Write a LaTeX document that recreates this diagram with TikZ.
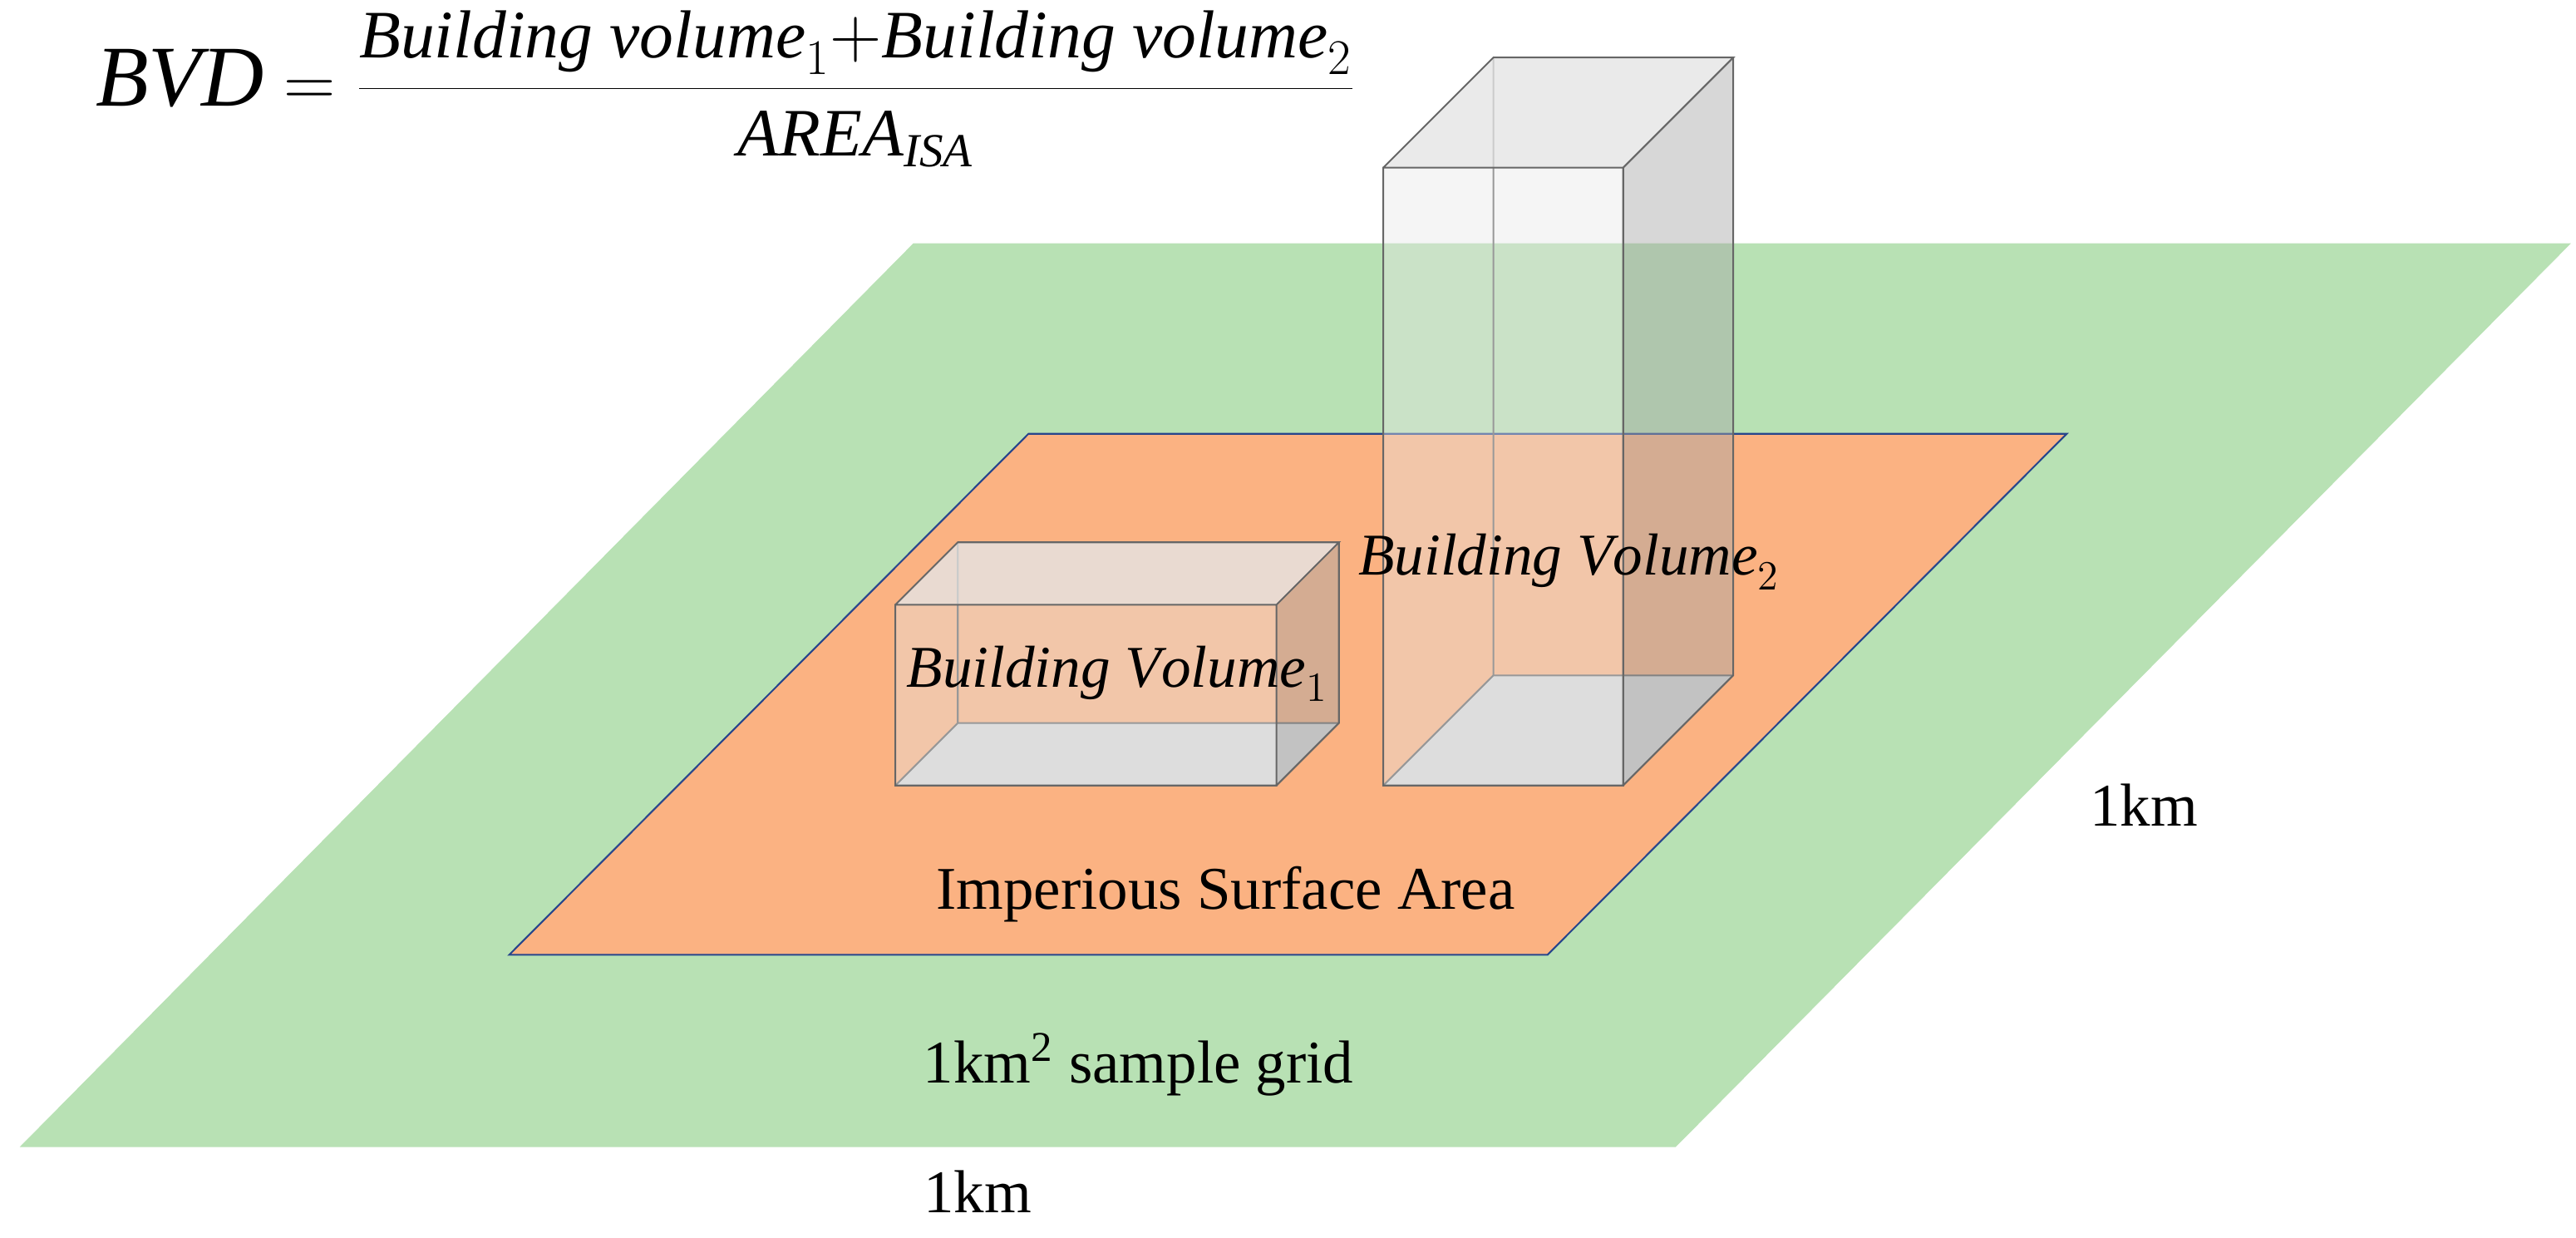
\documentclass[tikz,border=0pt]{standalone}
\usepackage{fontspec}
\setmainfont{Liberation Serif}
\begin{document}
\begin{tikzpicture}[x=0.02cm,y=-0.02cm,
  edge/.style={draw=gray!80!black,line width=0.6pt},
  lbl/.style={font=\fontsize{21}{24}\selectfont,inner sep=0pt},
  blbl/.style={font=\fontsize{20.5}{24}\selectfont,inner sep=0pt}]
\useasboundingbox (0,0) rectangle (1568,753);
\fill[fill={rgb,255:red,184;green,225;blue,180}] (12,698)--(556,148)--(1565,148)--(1020,698)--cycle;
\filldraw[fill={rgb,255:red,251;green,178;blue,130},draw={rgb,255:red,40;green,70;blue,140},line width=0.6pt] (310,581)--(626,264)--(1258,264)--(942,581)--cycle;
\def\mybox#1#2#3#4#5{%
 \fill[gray!30] (#1,#4)--(#3,#4)--(#3+#5,#4-#5)--(#1+#5,#4-#5)--cycle;
 \draw[edge] (#1+#5,#2-#5)--(#1+#5,#4-#5)--(#3+#5,#4-#5) (#1,#4)--(#1+#5,#4-#5);
 \fill[gray!20,fill opacity=0.4] (#1,#2) rectangle (#3,#4);
 \fill[gray!70,fill opacity=0.45] (#3,#2)--(#3+#5,#2-#5)--(#3+#5,#4-#5)--(#3,#4)--cycle;
 \fill[gray!20,fill opacity=0.8] (#1,#2)--(#1+#5,#2-#5)--(#3+#5,#2-#5)--(#3,#2)--cycle;
 \draw[edge] (#1,#2) rectangle (#3,#4) (#1,#2)--(#1+#5,#2-#5)--(#3+#5,#2-#5)--(#3,#2) (#3+#5,#2-#5)--(#3+#5,#4-#5)--(#3,#4);}
\mybox{545}{368}{777}{478}{38}
\mybox{842}{102}{988}{478}{67}
\node[blbl] (b1) at (680,410) {$\mathit{Building\ Volume}_1$};
\node[blbl] (b2) at (955,342) {$\mathit{Building\ Volume}_2$};
\node[lbl] (isa) at (746,544) {Imperious Surface Area};
\node[lbl] (grid) at (693,648) {1km\textsuperscript{2} sample grid};
\node[lbl] (k1) at (595,725) {1km};
\node[lbl] (k2) at (1305,490) {1km};
\node[anchor=west,inner sep=0pt,font=\fontsize{30}{34}\selectfont] (f) at (58,54)
 {$\mathit{BVD}=\mbox{\fontsize{23.5}{27}\selectfont$\displaystyle\frac{\mathit{Building\ volume}_1{+}\mathit{Building\ volume}_2}{\mathit{AREA}_{\mathit{ISA}}}$}$};
\end{tikzpicture}
\end{document}
